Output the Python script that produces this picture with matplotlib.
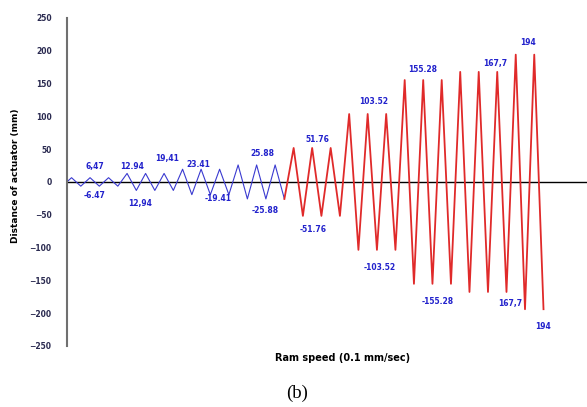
import numpy as np
import matplotlib
matplotlib.use("Agg")
import matplotlib.pyplot as plt

# peak / trough of each loading cycle (mm), one entry per cycle
blue_peaks = [6.47, 6.47, 6.47, 12.94, 12.94, 12.94,
              19.41, 19.41, 19.41, 25.88, 25.88, 25.88]
blue_troughs = [-6.47, -6.47, -6.47, -12.94, -12.94, -12.94,
                -19.41, -19.41, -19.41, -25.88, -25.88, -25.88]
red_peaks = [51.76, 51.76, 51.76, 103.52, 103.52, 103.52,
             155.28, 155.28, 155.28, 167.7, 167.7, 167.7, 194, 194]
red_troughs = [-51.76, -51.76, -51.76, -103.52, -103.52, -103.52,
               -155.28, -155.28, -155.28, -167.7, -167.7, -167.7, -194, -194]

blue_labels = ["6,47", "12.94", "19,41", "23.41", "25.88",
               "-6.47", "12,94", "-19.41", "-25.88"]
red_labels = ["51.76", "-51.76", "103.52", "-103.52", "155.28",
              "-155.28", "167,7", "167,7", "194", "194"]

y_ticks = [250, 200, 150, 100, 50, 0, -50, -100, -150, -200, -250]

# label anchor points (cycle no., mm)
blue_lab_pos = [(1.5, 23), (3.5, 23), (5.4, 35), (7.1, 27), (10.55, 43),
                (1.5, -20), (3.95, -33), (8.15, -26), (10.7, -43)]
red_lab_pos = [(13.55, 64), (13.3, -72), (16.55, 123), (16.9, -130), (19.2, 171),
               (20.05, -183), (23.15, 180), (23.95, -185), (24.9, 213), (25.7, -220)]


def zigzag(peaks, troughs, start):
    t, y = [], []
    for k, (p, q) in enumerate(zip(peaks, troughs)):
        t += [start + k + 0.25, start + k + 0.75]
        y += [p, q]
    return t, y


bt, by = zigzag(blue_peaks, blue_troughs, 0)
bt, by = [0.0] + bt, [0.0] + by
rt, ry = zigzag(red_peaks, red_troughs, len(blue_peaks))
rt, ry = [bt[-1]] + rt, [by[-1]] + ry

fig = plt.figure(figsize=(5.87, 4.07), dpi=100)
ax = fig.add_axes([0.114, 0.150, 0.886, 0.806])

ax.plot(bt, by, color="#3a3ad0", lw=0.8)
ax.plot(rt, ry, color="#e02a2a", lw=1.3)

for txt, (x, y) in zip(blue_labels, blue_lab_pos):
    ax.text(x, y, txt, color="#2222cc", fontsize=5.5, fontweight="bold",
            ha="center", va="center")
for txt, (x, y) in zip(red_labels, red_lab_pos):
    ax.text(x, y, txt, color="#2222cc", fontsize=5.5, fontweight="bold",
            ha="center", va="center")

ax.set_ylim(-250, 250)
ax.set_xlim(0, 28.1)
ax.set_yticks(y_ticks)
ax.set_xticks([])
ax.tick_params(axis="y", length=0, pad=11, labelsize=5.5, labelcolor="#2a2a50")
for lab in ax.get_yticklabels():
    lab.set_fontweight("bold")

for s in ["top", "right", "bottom"]:
    ax.spines[s].set_visible(False)
ax.spines["left"].set_color("#707070")
ax.spines["left"].set_linewidth(1.5)
ax.axhline(0, color="black", lw=1.0, zorder=0)

ax.set_ylabel("Distance of actuator (mm)", fontsize=6.5, fontweight="bold", labelpad=9)
ax.yaxis.set_label_coords(-0.09, 0.52)
fig.text(0.584, 0.12, "Ram speed (0.1 mm/sec)", fontsize=7, fontweight="bold",
         ha="center", va="center")
fig.text(0.506, 0.034, "(b)", fontsize=13.5, family="Liberation Serif",
         ha="center", va="center")

fig.savefig("out.png", dpi=100)
